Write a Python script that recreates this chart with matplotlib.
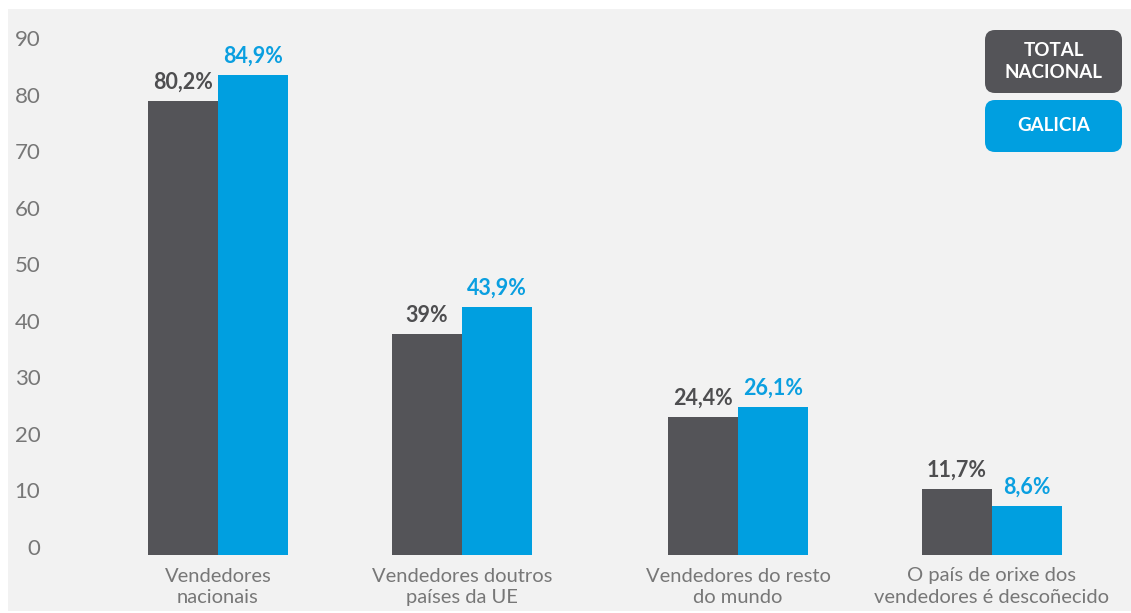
import matplotlib
matplotlib.use("Agg")
import matplotlib.pyplot as plt
import matplotlib.transforms as mtransforms
from matplotlib.patches import FancyBboxPatch, Rectangle

# ---- data ----
categories = ["Vendedores\nnacionais", "Vendedores doutros\npaíses da UE",
              "Vendedores do resto\ndo mundo", "O país de orixe dos\nvendedores é descoñecido"]
series_names = ["TOTAL\nNACIONAL", "GALICIA"]
total_nacional = [80.2, 39.0, 24.4, 11.7]
galicia = [84.9, 43.9, 26.1, 8.6]
total_labels = ["80,2%", "39%", "24,4%", "11,7%"]
galicia_labels = ["84,9%", "43,9%", "26,1%", "8,6%"]
y_ticks = [0, 10, 20, 30, 40, 50, 60, 70, 80, 90]

# ---- layout ----
group_pos = [0, 1, 2.131, 3.172]
bar_w = 0.287
c_dark = "#545458"
c_blue = "#009fe0"
c_dark_txt = "#4e4e50"
c_blue_txt = "#0a9fe0"
c_axis_txt = "#777777"
bg = "#f2f2f2"

plt.rcParams['font.family'] = ['Lato', 'DejaVu Sans']

W, H = 1131, 613
fig = plt.figure(figsize=(W / 100, H / 100), dpi=100, facecolor="white")
fig.patches.append(Rectangle((8 / 100, 2 / 100), (W - 8) / 100, 602 / 100,
                             transform=fig.dpi_scale_trans, facecolor=bg,
                             edgecolor="none", zorder=-5))

ax_left, ax_bottom_px, ax_top_px = 46, 555, 17.7
ax = fig.add_axes([ax_left / W, (H - ax_bottom_px) / H, (W - ax_left) / W,
                   (ax_bottom_px - ax_top_px) / H])
ax.set_facecolor("none")
ax.set_zorder(1)
for s in ax.spines.values():
    s.set_visible(False)

xl = [p - bar_w / 2 for p in group_pos]
xr = [p + bar_w / 2 for p in group_pos]
b1 = ax.bar(xl, total_nacional, width=bar_w, color=c_dark, zorder=2)
b2 = ax.bar(xr, galicia, width=bar_w, color=c_blue, zorder=2)

for rect, lab in zip(b1, total_labels):
    ax.annotate(lab, (rect.get_x() + rect.get_width() / 2, rect.get_height()),
                xytext=(0, 6), textcoords="offset points", ha="center", va="bottom",
                fontsize=15.5, fontweight="bold", color=c_dark_txt)
for rect, lab in zip(b2, galicia_labels):
    ax.annotate(lab, (rect.get_x() + rect.get_width() / 2, rect.get_height()),
                xytext=(0, 6), textcoords="offset points", ha="center", va="bottom",
                fontsize=15.5, fontweight="bold", color=c_blue_txt)

ax.set_ylim(0, 95)
ax.set_xlim((ax_left - 218) / 244, (W - 218) / 244)
ax.set_yticks(y_ticks)
ax.set_yticklabels([str(v) for v in y_ticks], fontsize=16, fontweight="normal",
                   color=c_axis_txt)
ax.tick_params(axis="y", length=0, pad=4)
off = mtransforms.ScaledTranslation(0, 8 / 100, fig.dpi_scale_trans)
for lab in ax.get_yticklabels():
    lab.set_transform(lab.get_transform() + off)

ax.set_xticks(group_pos)
ax.set_xticklabels(categories, fontsize=14.5, fontweight="normal", color=c_axis_txt,
                   linespacing=1.3)
ax.tick_params(axis="x", length=0, pad=9)

# ---- legend boxes ----
boxes = [(985, 30, 137, 63, c_dark), (985, 100, 137, 52, c_blue)]
for (bx, by, bw, bh, col), name in zip(boxes, series_names):
    p = FancyBboxPatch((bx / 100, (H - by - bh) / 100), bw / 100, bh / 100,
                       boxstyle="round,pad=0,rounding_size=0.1",
                       transform=fig.dpi_scale_trans, facecolor=col,
                       edgecolor="none", zorder=3)
    fig.patches.append(p)
    fig.text((bx + bw / 2) / W, (H - by - bh / 2) / H, name, ha="center",
             va="center", color="white", fontsize=13.5, fontweight="bold",
             linespacing=1.3, zorder=4)

fig.savefig("out.png", dpi=100, facecolor="white")
